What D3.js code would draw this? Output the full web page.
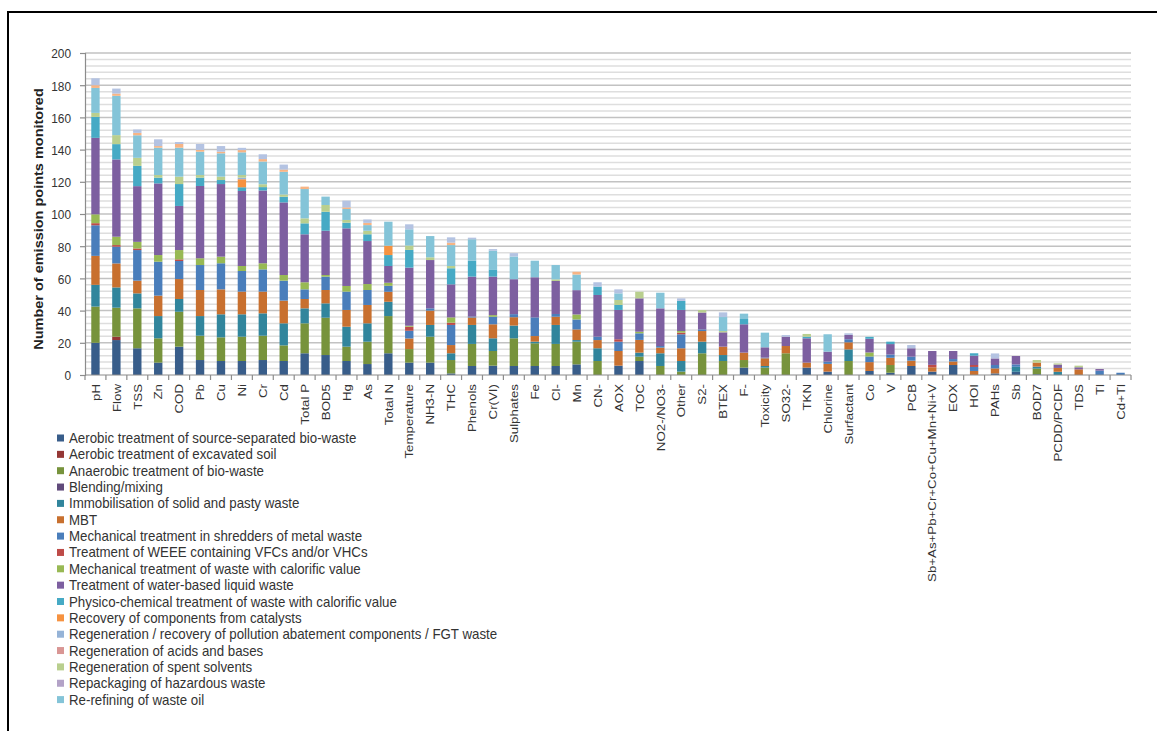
<!DOCTYPE html>
<html>
<head>
<meta charset="utf-8">
<script src="https://cdn.jsdelivr.net/npm/d3@7/dist/d3.min.js"></script>
<style>
  html, body { margin: 0; padding: 0; background: #fff; }
  text { font-family: "Liberation Sans", Arial, sans-serif; }
</style>
</head>
<body>
<svg id="chart" width="1157" height="731"></svg>
<script>
// ---------------- DATA ----------------
const categories = ["pH","Flow","TSS","Zn","COD","Pb","Cu","Ni","Cr","Cd",
  "Total P","BOD5","Hg","As","Total N","Temperature","NH3-N","THC","Phenols","Cr(VI)",
  "Sulphates","Fe","Cl-","Mn","CN-","AOX","TOC","NO2-/NO3-","Other","S2-",
  "BTEX","F-","Toxicity","SO32-","TKN","Chlorine","Surfactant","Co","V","PCB",
  "Sb+As+Pb+Cr+Co+Cu+Mn+Ni+V","EOX","HOI","PAHs","Sb","BOD7","PCDD/PCDF","TDS","Tl","Cd+Tl"];

const seriesNames = [
  "Aerobic treatment of source-separated bio-waste",
  "Aerobic treatment of excavated soil",
  "Anaerobic treatment of bio-waste",
  "Blending/mixing",
  "Immobilisation of solid and pasty waste",
  "MBT",
  "Mechanical treatment in shredders of metal waste",
  "Treatment of WEEE containing VFCs and/or VHCs",
  "Mechanical treatment of waste with calorific value",
  "Treatment of water-based liquid waste",
  "Physico-chemical treatment of waste with calorific value",
  "Recovery of components from catalysts",
  "Regeneration / recovery of pollution abatement components / FGT waste",
  "Regeneration of acids and bases",
  "Regeneration of spent solvents",
  "Repackaging of hazardous waste",
  "Re-refining of waste oil",
  "Series 18",
  "Series 19"
];
const legendCount = 17;

const aerobicBio    = [20,21.7,16.6,7.7,17.6,9.3,8.7,8.7,9.3,8.7, 13.5,12.4,8.7,6.8,13.5,7.7,7.7,1,5.6,5.8, 5.6,5.6,5.6,6.6,0,5.8,8.7,0,0,0, 0,4.6,0,0,4.6,2.1,0,2.5,1.4,5.6, 2.1,6.2,0,1,2,0.5,0,0,0,0];
const aerobicSoil   = [0,2.1,0,0,0,0,0,0,0,0, 0,0,0,0,0,0,0,0,0,0, 0,0,0,0,0,0,0,0,0,0, 0,0,0,0,0,0,0,0,0,0, 0,0,0,0,0,0,0,0,0,0];
const anaerobic     = [22.5,18,24.8,15.1,21.7,15.1,14.7,15.1,15.1,9.7, 18.6,23.2,8.9,13.9,23.1,8.4,16.1,8.3,13.7,9.1, 17.2,14.1,13.7,14.1,8.7,0,2.7,5.6,2.1,13.5, 8.7,4.7,4.6,13.5,0,0,8.7,0,4.8,0, 0,0,0,0,0,3.5,0,0,0,0];
const blending      = [0,0,0,0,0,0,0,0,0,0, 0,0,0,0,0,0,0,0,0,0, 0,0,0,0,0,0,0,0,0,0, 0,0,0,0,0,0,0,0,0,0, 0,0,0,0,0,0,0,0,0,0];
const immobilisation= [13.5,12.6,9.3,13.8,7.9,12.2,14.3,13.9,13.9,13.7, 9.3,8.9,12.4,11.4,8.9,0,7.3,4.2,11.8,7.9, 7.9,1,11.8,1,7.9,0,2.5,7.9,6.6,7.2, 3.7,0,1,0,0,0,7.2,0,0,0, 0,0,0,0,3.1,1.2,2,0,0,0];
const mbt           = [18,14.9,7.9,12.7,12.4,16.2,15.5,14.1,13.5,14.1, 5.8,8.3,10.4,11.4,6.2,6.6,8.9,5.1,4.6,8.7, 5.2,3.5,5.1,6.6,5.1,9.1,7.9,3.5,7.9,6.6, 5.2,4.6,4.8,4.5,3.1,4.8,4.4,5.5,4.5,3.3, 2.7,2.2,2.5,3.1,0,2.5,2.4,3.5,0,0];
const shredders     = [19,10.4,19,21.1,11.2,15.5,16.2,12.8,13.8,12.4, 6,8.3,11.4,9.3,3.7,4.8,1.4,12.5,0.6,4.7, 1.9,11.6,1.7,6.2,2.1,5.8,4.1,1,8.7,1, 0,0,0.4,0,0,1.4,1.9,3.5,2,2.5, 0,1.5,2.5,2.1,1.5,0,0,0,2.7,1.4];
const weee          = [1.3,1,1,0,1,0,0,0,0,0, 0,0,0,0,0,2.5,0,1.4,0,0, 0,0,0,0,0,1.5,0,0,1,0, 0,0,0,0,0,0,0,0,0,0, 1.5,0,1.2,0,0,0,0,0,0,0];
const calorificMech = [5.5,5.2,4.1,4.1,5.8,4.2,4.1,3.1,3.8,3.5, 4.4,1,3.5,3.7,1.9,0.6,0,3.3,0,1, 0,0,0,3.1,0,0,1,0,1,0, 0,0,0,0,0,0,0,2.5,0,0, 0,0,0,0,0,0,0,0,0,0];
const waterBased    = [47.5,48,34.6,44.5,27.4,44.9,45.1,46.6,45.2,45.1, 29.8,27.5,35.8,26.7,10.4,36.1,30,20.5,24.8,23.9, 21.7,24.9,20.5,15.1,25.9,18.2,20.7,23.4,13.1,10.5, 8.9,17.6,6.4,5.8,15.1,6.2,2.7,8.5,6.5,5.2, 8.6,5,5.8,4.1,5.2,0,2.1,1.3,1,0];
const physicoChem   = [13,9.5,12.6,3.6,13.6,5.2,2.5,2.3,2.1,3.5, 6.8,11.8,3.5,4.2,6.8,11,0,10,9.9,4.5, 0,0,0,0,5.2,3.1,0,0,5.6,0, 0,3.3,0,0,1,0,0,1.2,1.5,0, 0,0,1.5,0,0,0,0,0,0,0];
const catalysts     = [0,0,0,0,0,0,0,5,0,0, 0,0,0,0,5.8,0,0,0,0,0, 0,0,0,0,0,0,0,0,0,0, 0,0,0,0,0,0,0,0,0,0, 0,0,0,0,0,0,0,0,0,0];
const fgt           = [0,0,0,0,0,0,0,1,0,0, 0,0,0,0,0,0,0,0,0,0, 0,0,0,0,0,0,0,0,0,0, 0,0,0,0,0,0,0,0,0,0, 0,0,0,0,0,0,0,0,0,0];
const acidsBases    = [0,0,0,0,0,0,0,0,0,0, 0,0,0,0,0,0,0,0,0,0, 0,0,0,0,0,0,0,0,0,0, 0,0,0,0,0,0,0,0,0,0, 0,0,0,0,0,0,0,0,0,0];
const solvents      = [2.5,5.6,5,1.6,4.6,1.6,2.1,1.6,1.8,1.4, 3.1,4.2,1.7,2.2,0,2.7,1.7,1.4,0,0, 0,0,1,0,0,3.1,4.1,0,0,1.5, 0.8,0,0,0,1.7,0,0,0,0,0, 0,0,0,0,0,1.6,0.7,1,0,0];
const repackaging   = [0,0,0,0,0,0,0,0,0,0, 0,0,0,0,0,0,0,0,0,0, 0,0,0,0,0,0,0,0,0,0, 0,0,0,0,0,0,0,0,0,0, 0,0,0,0,0,0,0,0,0,0];
const wasteOil      = [15.5,24.4,14,17,18,14.5,14.5,14.1,14.1,14.1, 18.2,5.2,6.8,3.5,14.9,10.1,13.2,13,13.3,11.6, 14.1,10.3,8.9,9.7,0,4.1,0,9.7,0,0, 8.7,3.3,9.1,0,0,10.8,0,0,0,0, 0,0,0,0,0,0,0,0,0,0];
const series18      = [1.7,1.4,1.5,1,2.3,1.1,1,1.4,1.5,1.4, 1.5,0,1,1.4,0,0,0,1.5,0,0, 0,0,0,1.7,0,0,0,0,0,0, 0,0,0,0,0,0,0,0,0,0, 0,0,0,0,0,0,0,0,0,0];
const series19      = [4.3,3.1,2.1,4.2,1.2,3.7,3.5,1.4,3,3.1, 0,0,4.2,2.1,0,3.1,0,3.3,1,1, 2.1,0,0,0,2.7,2.5,0,0,1.6,0, 2.9,0,0,1,0,0,1,0,0,2, 0,0,0,3.1,0,0,0,0,0,0];

const seriesValues = [aerobicBio, aerobicSoil, anaerobic, blending, immobilisation, mbt, shredders,
  weee, calorificMech, waterBased, physicoChem, catalysts, fgt, acidsBases, solvents, repackaging,
  wasteOil, series18, series19];

const yTicks = [0,20,40,60,80,100,120,140,160,180,200];

// ---------------- STYLE ----------------
const colors = ["#385D8A","#953735","#77933C","#604A7B","#31859C","#C8702F","#4A7EBB",
  "#BE4B48","#98B954","#7D5FA0","#46AAC5","#F69240","#95B3D7","#D99694","#B9CF8E",
  "#B3A2C7","#84C4D8","#F7B484","#B4C3E2"];

const W = 1157, H = 731;
const plot = {left: 85, right: 1131, top: 53, bottom: 375};
const squeeze = 0.88;

const svg = d3.select("#chart");
svg.append("rect").attr("width", W).attr("height", H).attr("fill", "#fff");

// frame
svg.append("line").attr("x1", 8).attr("x2", W).attr("y1", 12).attr("y2", 12)
  .attr("stroke", "#000").attr("stroke-width", 2);
svg.append("line").attr("x1", 8).attr("x2", 8).attr("y1", 11).attr("y2", H)
  .attr("stroke", "#000").attr("stroke-width", 2);

const keys = seriesNames.map((d, i) => "s" + i);
const rows = categories.map((c, i) => {
  const r = {cat: c};
  keys.forEach((k, j) => r[k] = seriesValues[j][i]);
  return r;
});
const stacked = d3.stack().keys(keys)(rows);

const x = d3.scaleBand().domain(categories).range([plot.left, plot.right])
  .paddingInner(0.6).paddingOuter(0.3);
const y = d3.scaleLinear().domain([0, 200]).range([plot.bottom, plot.top]);

// gridlines every 4 units
const gridVals = d3.range(4, 201, 4);
svg.append("g").selectAll("line").data(gridVals).join("line")
  .attr("x1", plot.left).attr("x2", plot.right)
  .attr("y1", d => y(d)).attr("y2", d => y(d))
  .attr("stroke", d => d % 20 === 0 ? "#c2c2c2" : "#dedede")
  .attr("stroke-width", 1.5);

// bars
const layer = svg.append("g").selectAll("g").data(stacked).join("g")
  .attr("fill", (d, i) => colors[i]);
layer.selectAll("rect").data(d => d.filter(p => p[1] - p[0] > 0)).join("rect")
  .attr("x", p => x(p.data.cat))
  .attr("width", x.bandwidth())
  .attr("y", p => y(p[1]))
  .attr("height", p => y(p[0]) - y(p[1]));

// y axis
const yAxis = d3.axisLeft(y).tickValues(yTicks).tickSize(5).tickPadding(0);
const gy = svg.append("g").attr("transform", `translate(${plot.left},0)`).call(yAxis);
gy.select(".domain").attr("stroke", "#8c8c8c").attr("stroke-width", 1.2);
gy.selectAll(".tick line").attr("stroke", "#8c8c8c").attr("stroke-width", 1.2);
gy.selectAll(".tick text").remove();
gy.selectAll(".tick").append("text")
  .attr("transform", `translate(-14,0) scale(${squeeze},1)`)
  .attr("text-anchor", "end").attr("dy", "0.36em")
  .attr("fill", "#333").attr("font-size", "13.5px")
  .text(d => d);

// x axis line and ticks at band boundaries
svg.append("line").attr("x1", plot.left).attr("x2", plot.right)
  .attr("y1", plot.bottom).attr("y2", plot.bottom)
  .attr("stroke", "#8c8c8c").attr("stroke-width", 1.2);
const bounds = d3.range(categories.length + 1).map(i => plot.left + i * x.step());
svg.append("g").selectAll("line").data(bounds).join("line")
  .attr("x1", d => d).attr("x2", d => d)
  .attr("y1", plot.bottom).attr("y2", plot.bottom + 5)
  .attr("stroke", "#8c8c8c").attr("stroke-width", 1.2);

// x labels
svg.append("g").selectAll("text").data(categories).join("text")
  .attr("transform", d => `translate(${x(d) + x.bandwidth() / 2},384) scale(${squeeze},1) rotate(-90)`)
  .attr("text-anchor", "end").attr("dy", "0.36em")
  .attr("fill", "#333").attr("font-size", "13.3px")
  .text(d => d);

// y title
svg.append("text")
  .attr("transform", `translate(43,219) scale(${squeeze},1) rotate(-90)`)
  .attr("text-anchor", "middle")
  .attr("font-size", "14.5px").attr("font-weight", "bold").attr("fill", "#222")
  .text("Number of emission points monitored");

// legend
const legend = svg.append("g").selectAll("g").data(seriesNames.slice(0, legendCount)).join("g")
  .attr("transform", (d, i) => `translate(57,${438 + i * 16.35})`);
legend.append("rect").attr("x", 0).attr("y", -3.5).attr("width", 7).attr("height", 7)
  .attr("fill", (d, i) => colors[i]);
legend.append("text")
  .attr("transform", `translate(12,0) scale(0.95,1)`)
  .attr("dy", "0.36em").attr("font-size", "14px").attr("fill", "#333")
  .text(d => d);
</script>
</body>
</html>
